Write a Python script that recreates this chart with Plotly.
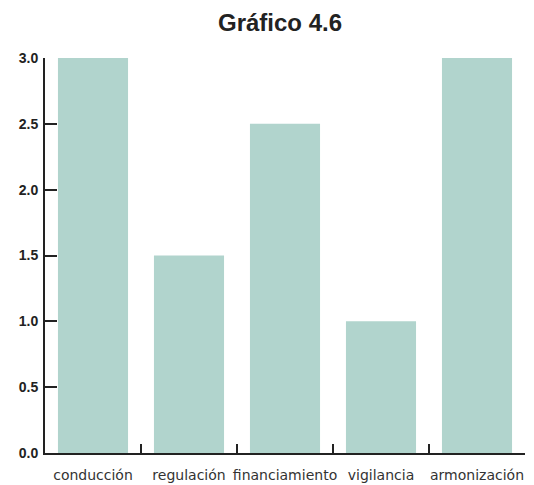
import plotly.graph_objects as go

categories = ["conducción", "regulación", "financiamiento", "vigilancia", "armonización"]
values = [3.0, 1.5, 2.5, 1.0, 3.0]
y_ticks = [0, 0.5, 1.0, 1.5, 2.0, 2.5, 3.0]
y_tick_labels = ["0.0", "0.5", "1.0", "1.5", "2.0", "2.5", "3.0"]

# page body has an 8px default margin, so the figure is offset by 8px
W, H = 526, 477

fig = go.Figure(go.Bar(x=categories, y=values, marker=dict(color="#b1d4cd", line=dict(width=0))))

fig.update_layout(
    width=W, height=H,
    margin=dict(l=37, r=9, t=50, b=32, autoexpand=False),
    paper_bgcolor="white", plot_bgcolor="white",
    bargap=0.27,
    showlegend=False,
    title=dict(text="Gráfico 4.6", x=(280 - 8) / W, xanchor="center", xref="container",
               y=1 - (22.5 - 8) / H, yanchor="middle", yref="container",
               font=dict(family="Liberation Sans, Arial", size=24, color="#222222", weight="bold")),
)
fig.update_xaxes(
    type="category", range=[-0.5, 4.5], automargin=False, tickangle=0,
    showline=True, linecolor="#222222", linewidth=2,
    ticks="inside", tickson="boundaries", ticklen=9, tickwidth=2, tickcolor="#222222",
    showgrid=False, zeroline=False, layer="below traces",
    tickfont=dict(family="DejaVu Sans", size=14, color="#333333"),
    ticklabelstandoff=8,
)
fig.update_yaxes(
    range=[0, 3], tickvals=y_ticks, ticktext=y_tick_labels, automargin=False,
    showline=True, linecolor="#222222", linewidth=2,
    ticks="inside", ticklen=12, tickwidth=2, tickcolor="#222222",
    showgrid=False, zeroline=False, layer="below traces",
    tickfont=dict(family="Liberation Sans, Arial", size=14, color="#222222", weight="bold"),
    ticklabelstandoff=2,
)

fig.write_html("out.html")
